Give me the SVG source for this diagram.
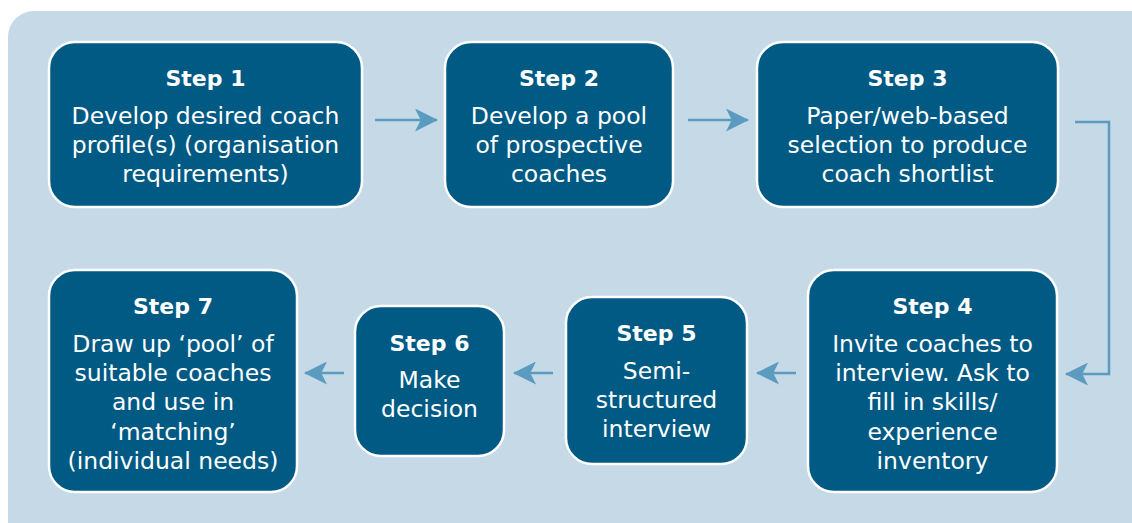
<svg xmlns="http://www.w3.org/2000/svg" width="1132" height="523" viewBox="0 0 1132 523">
<style>
.box{fill:#005a84;stroke:#ffffff;stroke-width:2.5}
.t{font-family:"DejaVu Sans","Open Sans",sans-serif;fill:#ffffff;text-anchor:middle;font-size:23.5px}
.h{font-weight:bold;font-size:22px}
.c{fill:none;stroke:#5b9bbf;stroke-width:2.5}
</style>
<defs>
<marker id="ah" viewBox="0 0 24 24" refX="23" refY="12" markerWidth="23" markerHeight="23" markerUnits="userSpaceOnUse" orient="auto">
<path d="M0,0 L24,12 L0,24 L6,12 Z" fill="#5b9bbf"/>
</marker>
</defs>
<rect x="8" y="11" width="1150" height="540" rx="26" fill="#c5d9e7"/>
<g id="connectors">
<path class="c" d="M375,120 H437" marker-end="url(#ah)"/>
<path class="c" d="M688,120 H748" marker-end="url(#ah)"/>
<path class="c" d="M1075,122 H1109 V374 H1066" marker-end="url(#ah)"/>
<path class="c" d="M796,373 H757" marker-end="url(#ah)"/>
<path class="c" d="M553,373 H514" marker-end="url(#ah)"/>
<path class="c" d="M344,373 H305" marker-end="url(#ah)"/>
</g>
<g id="step1">
<rect class="box" x="49" y="42" width="313" height="165" rx="26"/>
<text class="t h" x="205.5" y="86">Step 1</text>
<text class="t" x="205.5" y="124">Develop desired coach</text>
<text class="t" x="205.5" y="153">profile(s) (organisation</text>
<text class="t" x="205.5" y="182">requirements)</text>
</g>
<g id="step2">
<rect class="box" x="445" y="42" width="228" height="165" rx="26"/>
<text class="t h" x="559" y="86">Step 2</text>
<text class="t" x="559" y="124">Develop a pool</text>
<text class="t" x="559" y="153">of prospective</text>
<text class="t" x="559" y="182">coaches</text>
</g>
<g id="step3">
<rect class="box" x="757" y="42" width="301" height="165" rx="26"/>
<text class="t h" x="907.5" y="86">Step 3</text>
<text class="t" x="907.5" y="124">Paper/web-based</text>
<text class="t" x="907.5" y="153">selection to produce</text>
<text class="t" x="907.5" y="182">coach shortlist</text>
</g>
<g id="step4">
<rect class="box" x="808" y="270" width="249" height="222" rx="26"/>
<text class="t h" x="932.5" y="314">Step 4</text>
<text class="t" x="932.5" y="352">Invite coaches to</text>
<text class="t" x="932.5" y="381">interview. Ask to</text>
<text class="t" x="932.5" y="410">fill in skills/</text>
<text class="t" x="932.5" y="440">experience</text>
<text class="t" x="932.5" y="469">inventory</text>
</g>
<g id="step5">
<rect class="box" x="566" y="297" width="181" height="167" rx="26"/>
<text class="t h" x="656.5" y="341">Step 5</text>
<text class="t" x="656.5" y="379">Semi-</text>
<text class="t" x="656.5" y="408">structured</text>
<text class="t" x="656.5" y="437">interview</text>
</g>
<g id="step6">
<rect class="box" x="355" y="306" width="149" height="150" rx="26"/>
<text class="t h" x="429.5" y="351">Step 6</text>
<text class="t" x="429.5" y="388">Make</text>
<text class="t" x="429.5" y="417">decision</text>
</g>
<g id="step7">
<rect class="box" x="49" y="270" width="248" height="222" rx="26"/>
<text class="t h" x="173" y="314">Step 7</text>
<text class="t" x="173" y="352">Draw up ‘pool’ of</text>
<text class="t" x="173" y="381">suitable coaches</text>
<text class="t" x="173" y="410">and use in</text>
<text class="t" x="173" y="440">‘matching’</text>
<text class="t" x="173" y="469">(individual needs)</text>
</g>
</svg>
